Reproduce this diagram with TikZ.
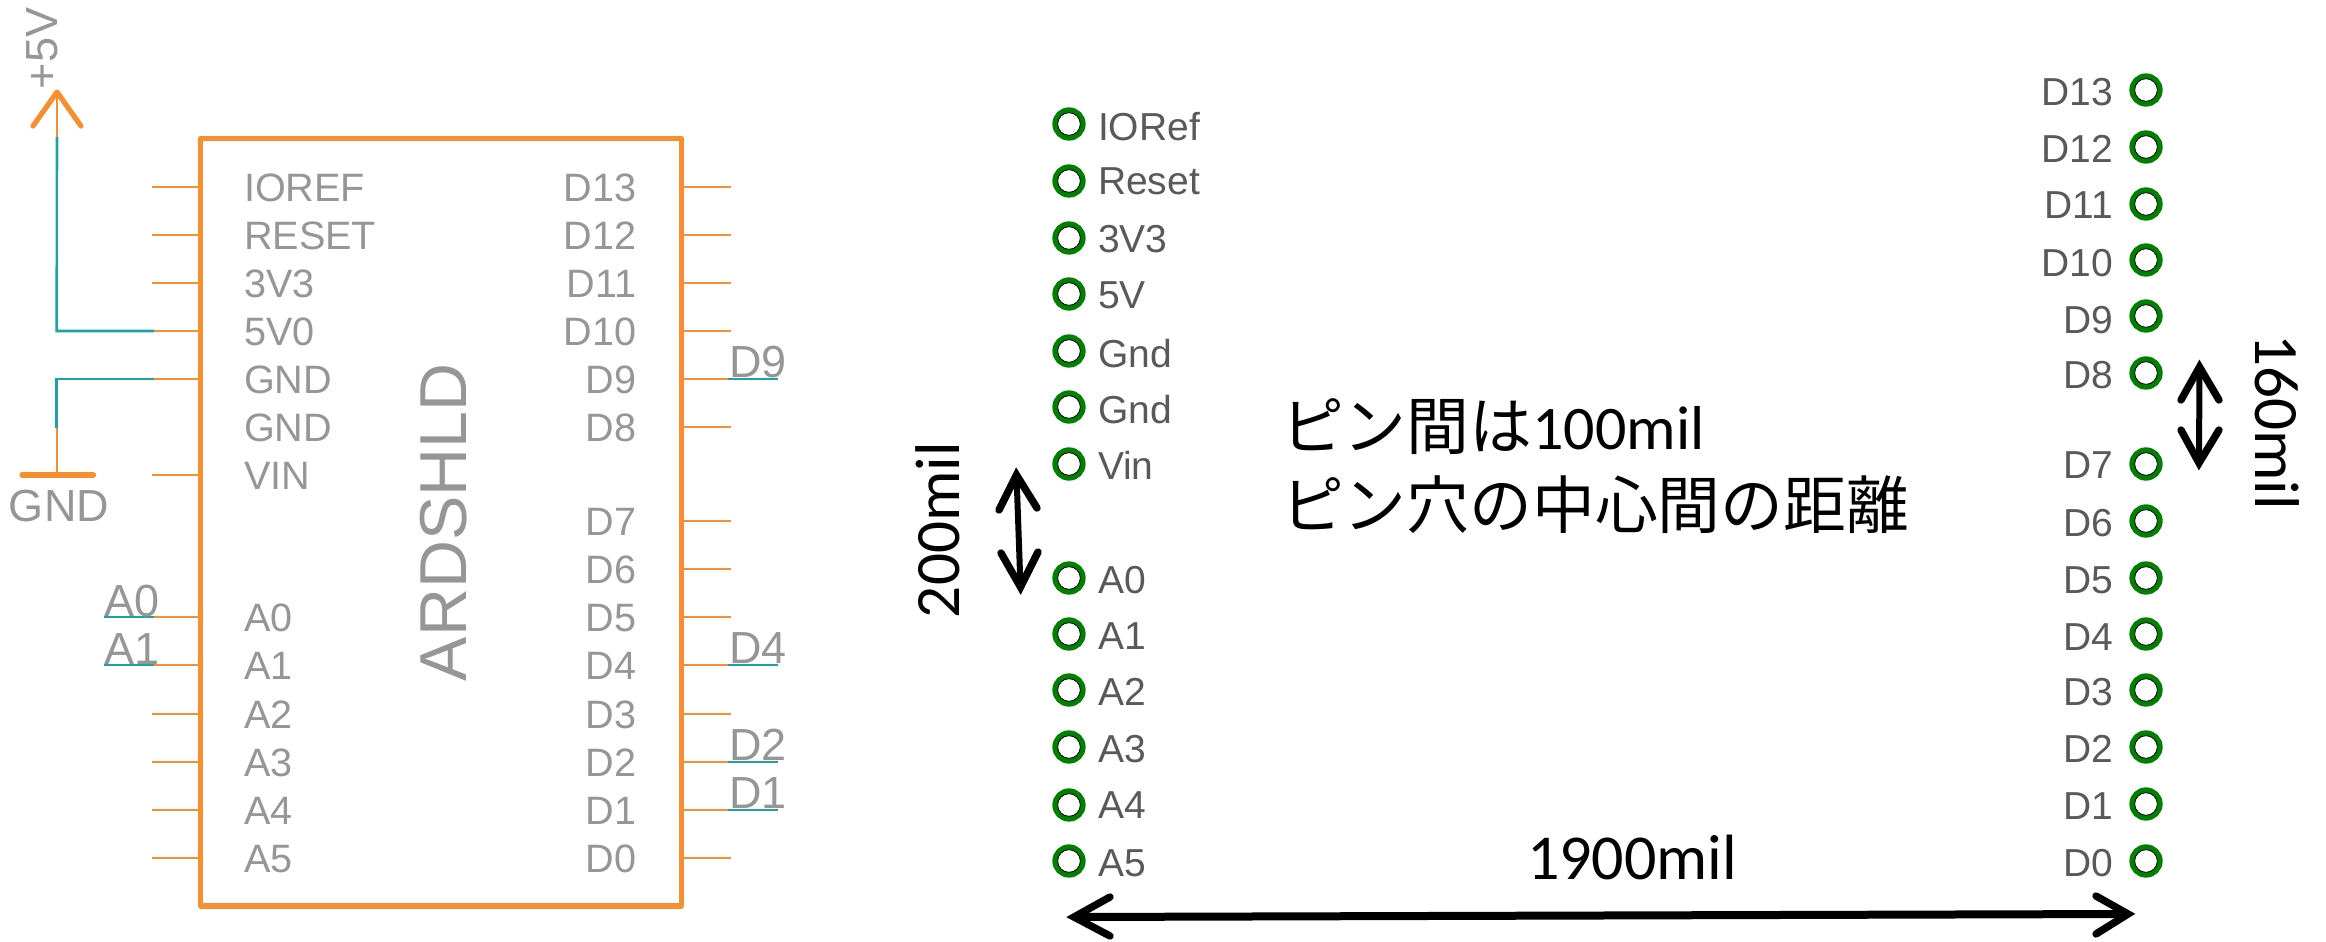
\documentclass[tikz,border=0pt]{standalone}
\usepackage{fontspec}
\setmainfont{Liberation Sans}
\newfontfamily\cjkjp{Noto Sans CJK JP}
\newfontfamily\carl{Carlito}
\definecolor{schorange}{HTML}{F78F30}
\definecolor{schteal}{HTML}{1FA3A0}
\definecolor{schgray}{HTML}{969696}
\definecolor{padgreen}{HTML}{008000}
\definecolor{padtext}{HTML}{595959}
\newcommand{\fs}[1]{\fontsize{#1}{#1}\selectfont}
\tikzset{
  x=0.5pt,y=-0.5pt,
  every node/.style={inner sep=0pt,outer sep=0pt},
  boxline/.style={draw=schorange,line width=2.75pt,line join=round},
  pinline/.style={draw=schorange,line width=1.1pt},
  wire/.style={draw=schteal,line width=1.3pt,line join=miter},
  symline/.style={draw=schorange,line width=2.6pt,line cap=round,line join=round},
  pinname/.style={text=schgray,font=\fs{19.8}},
  netname/.style={text=schgray,font=\fs{22.5}},
  padring/.style={circle,draw=padgreen,line width=2.65pt,minimum size=14pt},
  padhole/.style={draw=black,line width=0.4pt},
  padlabel/.style={text=padtext,font=\fs{19.5}},
  dimwing/.style={draw=black,line width=3.7pt,line cap=round,line join=miter,miter limit=20},
  dimshaft/.style={draw=black,line width=3pt},
  dimtext/.style={text=black,font=\carl\fs{31.6}},
  bigtext/.style={text=black,font=\cjkjp\fs{31.4}},
}
\begin{document}
\begin{tikzpicture}
\useasboundingbox (0,0) rectangle (2326,942);
% ---------- left-hand pin stubs
\foreach \yy in {187,235,283,475,714,762,810,858}
  \draw[pinline] (152,\yy) -- (200.7,\yy);
% connected left pins
\foreach \yy in {331,379,617,665}
  \draw[pinline] (154,\yy) -- (200.7,\yy);
% right-hand pin stubs
\foreach \yy in {187,235,283,331,427,521,569,617,714,858}
  \draw[pinline] (681,\yy) -- (731,\yy);
\foreach \yy in {379,665,762,810}
  \draw[pinline] (681,\yy) -- (728,\yy);
% ---------- component body
\coordinate (bodytl) at (200.7,138.3);
\coordinate (bodybr) at (681.3,906);
\draw[boxline] (bodytl) rectangle (bodybr);
% ---------- left pin names
\foreach \nm/\yy in {IOREF/187,RESET/235,3V3/283,5V0/331,GND/379,GND/427,VIN/475,A0/617,A1/665,A2/714,A3/762,A4/810,A5/858}
  \node[pinname,anchor=base west] (lp\nm\yy) at (244,\yy+14) {\nm};
% right pin names
\foreach \nm/\yy in {D13/187,D12/235,D11/283,D10/331,D9/379,D8/427,D7/521,D6/569,D5/617,D4/665,D3/714,D2/762,D1/810,D0/858}
  \node[pinname,anchor=base east] (rp\nm) at (636.5,\yy+14) {\nm};
\node[text=schgray,font=\fs{33.2},rotate=90,anchor=base west] (devname) at (466,681) {ARDSHLD};
% ---------- +5V supply
\coordinate (vtip) at (57,92);
\coordinate (vwl) at (33,126);
\coordinate (vwr) at (81,126);
\coordinate (vbase) at (57,137);
\coordinate (vcorner) at (56.7,331);
\coordinate (vpin) at (154,331);
\draw[symline] (vwl) -- (vtip) -- (vwr);
\draw[pinline] (vtip) -- (vbase);
\draw[wire] (vbase) -- (vcorner) -- (vpin);
\node[netname,rotate=90,anchor=base west] (plus5) at (57,89) {+5V};
% ---------- GND symbol
\coordinate (gpin) at (154,379);
\coordinate (gcorner) at (56.7,379);
\coordinate (gmid) at (56.7,428);
\coordinate (gbar) at (56.7,475);
\coordinate (gbl) at (22,475);
\coordinate (gbr) at (93.5,475);
\draw[wire] (gpin) -- (gcorner) -- (gmid);
\draw[pinline] (gmid) -- (gbar);
\draw[symline] (gbl) -- (gbr);
\node[netname,anchor=base west] (gndnet) at (9,521) {GND};
% ---------- net stubs with labels
\foreach \nm/\yy in {A0/617,A1/665}{
  \draw[wire] (104.3,\yy) -- (154,\yy);
  \node[netname,anchor=base west] (net\nm) at (104.3,\yy-1) {\nm};
}
\foreach \nm/\yy in {D9/379,D4/665,D2/762,D1/810}{
  \draw[wire] (728,\yy) -- (778,\yy);
  \node[netname,anchor=base west] (net\nm) at (729,\yy-2) {\nm};
}
% ---------- pads, left column
\foreach \nm/\yy/\bb in {IORef/124/140,Reset/181/194,3V3/238/252,5V/294/308,Gnd/351/367,Gnd/407/423,Vin/464/479,A0/578/593,A1/634/649,A2/690/705,A3/747/762,A4/805/818,A5/861/876}{
  \node[padring] (pl\yy) at (1069,\yy) {};
  \draw[padhole] (pl\yy) circle [radius=11.3];
  \node[padlabel,anchor=base west] (tl\yy) at (1098,\bb) {\nm};
}
% pads, right column
\foreach \nm/\yy/\bb in {D13/90/105,D12/147/162,D11/204/218,D10/260/276,D9/316/333,D8/373/388,D7/464/478,D6/521/536,D5/578/593,D4/634/650,D3/690/705,D2/747/762,D1/804/819,D0/861/876}{
  \node[padring] (pr\yy) at (2146,\yy) {};
  \draw[padhole] (pr\yy) circle [radius=11.3];
  \node[padlabel,anchor=base east] (tr\yy) at (2113,\bb) {\nm};
}
% ---------- central note
\node[bigtext,anchor=base west] (note1) at (1281,449) {ピン間は{\carl\fs{31}100mil}};
\node[bigtext,anchor=base west] (note2) at (1281,528) {ピン穴の中心間の距離};
% ---------- 200mil dimension
\coordinate (at) at (1016.5,475);
\coordinate (atl) at (999,510);
\coordinate (atr) at (1037,508);
\coordinate (ab) at (1020.5,587);
\coordinate (abl) at (1001,553);
\coordinate (abr) at (1038,552);
\draw[dimshaft] (at) -- (ab);
\draw[dimwing] (atl) -- (at) -- (atr);
\draw[dimwing] (abl) -- (ab) -- (abr);
\node[dimtext,rotate=90,anchor=base west] (t200) at (959,618) {200mil};
% ---------- 160mil dimension
\coordinate (bt) at (2199.5,367);
\coordinate (btl) at (2181,400);
\coordinate (btr) at (2219,400);
\coordinate (bb) at (2199,463);
\coordinate (bbl) at (2181,430);
\coordinate (bbr) at (2219,430);
\draw[dimshaft] (bt) -- (bb);
\draw[dimwing] (btl) -- (bt) -- (btr);
\draw[dimwing] (bbl) -- (bb) -- (bbr);
\node[dimtext,rotate=-90,anchor=base west] (t160) at (2255,334) {160mil};
% ---------- 1900mil dimension
\coordinate (cl) at (1074,917);
\coordinate (clt) at (1110,897);
\coordinate (clb) at (1110,936);
\coordinate (cr) at (2128,914);
\coordinate (crt) at (2096,896);
\coordinate (crb) at (2096,934);
\draw[draw=black,line width=4pt] (cl) -- (cr);
\draw[dimwing] (clt) -- (cl) -- (clb);
\draw[dimwing] (crt) -- (cr) -- (crb);
\node[dimtext,font=\carl\fs{32},anchor=base west] (t1900) at (1527,879) {1900mil};
\end{tikzpicture}
\end{document}
